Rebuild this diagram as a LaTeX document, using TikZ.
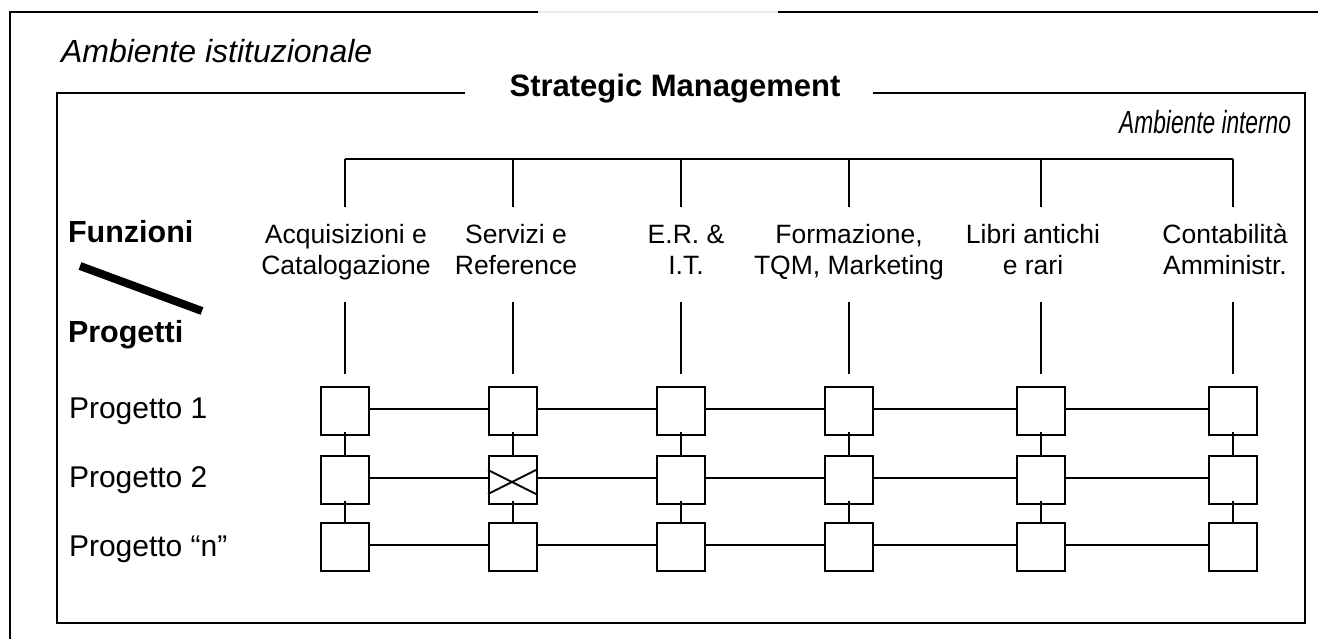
\documentclass[tikz,border=0pt]{standalone}
\usepackage{fontspec}
\setmainfont{Liberation Sans}
\definecolor{gapgray}{HTML}{EBEBEB}
\begin{document}
\begin{tikzpicture}[x=1pt,y=-1pt,line width=2pt,
  cell/.style={draw,minimum width=48pt,minimum height=48pt,inner sep=0pt,line width=2pt},
  flabel/.style={align=center,font=\fontsize{26.5}{31}\selectfont,minimum height=95pt,inner sep=0pt,anchor=center},
  bigbold/.style={font=\fontsize{31}{36}\selectfont\bfseries,inner sep=0pt},
  bigital/.style={font=\fontsize{32}{36}\selectfont\itshape,inner sep=0pt},
  rowlabel/.style={font=\fontsize{30}{36}\selectfont,inner sep=0pt,anchor=base west},
  conn/.style={line width=2pt}]
\useasboundingbox (0,0) rectangle (1318,639);

% outer frame (Ambiente istituzionale)
\draw[line width=2pt] (538,12.5) -- (10,12.5) -- (10,639);
\draw[line width=2pt,gapgray] (538,12.5) -- (778,12.5);
\draw[line width=2pt] (778,12.5) -- (1318,12.5);
\node[bigital,anchor=base west] (amist) at (60,63) {Ambiente istituzionale};

% inner frame (Ambiente interno)
\node[bigbold,anchor=base] (sm) at (675,97) {Strategic Management};
\draw[line width=2pt] (465,93) -- (57,93) -- (57,623) -- (1305,623) -- (1305,93) -- (873,93);
\node[bigital,anchor=base east] (amint) at (1292,134) {\scalebox{0.71}[1]{Ambiente interno}};

% Funzioni / Progetti
\node[bigbold,anchor=base west,font=\fontsize{30.5}{36}\selectfont\bfseries] (fun) at (67,243) {Funzioni};
\node[bigbold,anchor=base west,font=\fontsize{30.5}{36}\selectfont\bfseries] (prog) at (67,342) {Progetti};
\draw[line width=8pt] (80,266) -- (202,311);

% function labels
\node[flabel] (l1) at (346,252.5) {\strut Acquisizioni e\\\strut Catalogazione};
\node[flabel] (l2) at (516,252.5) {\strut Servizi e\\\strut Reference};
\node[flabel] (l3) at (686,252.5) {\strut E.R. \&\\\strut I.T.};
\node[flabel] (l4) at (849,252.5) {\strut Formazione,\\\strut TQM, Marketing};
\node[flabel] (l5) at (1033,252.5) {\strut Libri antichi\\\strut e rari};
\node[flabel] (l6) at (1225,252.5) {\strut Contabilità\\\strut Amministr.};

% project labels
\node[rowlabel] (p1) at (68,418) {Progetto 1};
\node[rowlabel] (p2) at (68,487) {Progetto 2};
\node[rowlabel] (p3) at (68,556) {Progetto “n”};

% matrix cells
\foreach \c/\x in {1/345,2/513,3/681,4/849,5/1041,6/1233}{
  \node[cell] (b1\c) at (\x,411) {};
  \node[cell] (b2\c) at (\x,479.5) {};
  \node[cell] (b3\c) at (\x,547) {};
  \coordinate (t\c) at (\x,159);
}

% strategic management bus
\draw[conn] (t1) -- (t6);
\foreach \c in {1,...,6}{
  \draw[conn] (t\c) -- (t\c |- 0,207);
  \draw[conn] (t\c |- 0,302) -- (t\c |- 0,374);
  \draw[conn] ([yshift=4pt]b1\c.south) -- (b2\c.north);
  \draw[conn] ([yshift=4pt]b2\c.south) -- (b3\c.north);
}
\foreach \r in {1,2,3}{
  \foreach \a/\b in {1/2,2/3,3/4,4/5,5/6}{
    \draw[conn] ([yshift=2pt]b\r\a.east) -- ([yshift=2pt]b\r\b.west);
  }
}

% crossed cell
\draw[conn] (b22.west) ++(0,-9.5) -- ++(48,24);
\draw[conn] (b22.west) ++(0,14.5) -- ++(48,-24);
\end{tikzpicture}
\end{document}
